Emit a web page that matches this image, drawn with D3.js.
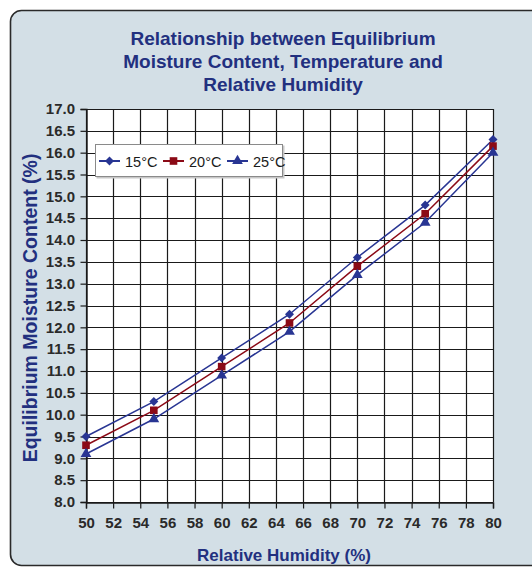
<!DOCTYPE html>
<html>
<head>
<meta charset="utf-8">
<script src="https://cdn.jsdelivr.net/npm/d3@7"></script>
<style>
  html, body { margin: 0; padding: 0; background: #ffffff; }
  svg { display: block; }
</style>
</head>
<body>
<svg id="chart" width="532" height="567"></svg>
<script>
// Relative humidity (%) at which each reading was taken
const humidity = [50, 55, 60, 65, 70, 75, 80];

// Equilibrium moisture content (%) per temperature
const emc15 = [9.5, 10.3, 11.3, 12.3, 13.6, 14.8, 16.3];
const emc20 = [9.3, 10.1, 11.1, 12.1, 13.4, 14.6, 16.15];
const emc25 = [9.1, 9.9, 10.9, 11.9, 13.2, 14.4, 16.0];

const seriesNames = ["15°C", "20°C", "25°C"];

// Axis ticks
const xTicks = [50, 52, 54, 56, 58, 60, 62, 64, 66, 68, 70, 72, 74, 76, 78, 80];
const yTicks = [8.0, 8.5, 9.0, 9.5, 10.0, 10.5, 11.0, 11.5, 12.0, 12.5, 13.0, 13.5,
                14.0, 14.5, 15.0, 15.5, 16.0, 16.5, 17.0];

const titleLines = ["Relationship between Equilibrium",
                    "Moisture Content, Temperature and",
                    "Relative Humidity"];

// Marker shapes: the diamond is a square turned 45 degrees
const series = [
  { name: seriesNames[0], values: emc15, color: "#283593", symbol: d3.symbolSquare, size: 40, rotate: 45 },
  { name: seriesNames[1], values: emc20, color: "#8b0a16", symbol: d3.symbolSquare, size: 58, rotate: 0 },
  { name: seriesNames[2], values: emc25, color: "#283593", symbol: d3.symbolTriangle, size: 50, rotate: 0 }
];

const svg = d3.select("#chart");
const navy = "#22307f";
const font = "'Liberation Sans', Arial, sans-serif";

// Framed panel behind everything
svg.append("rect")
  .attr("x", 10.5).attr("y", 10.5)
  .attr("width", 560).attr("height", 555)
  .attr("rx", 11).attr("ry", 11)
  .attr("fill", "#d3dfe6")
  .attr("stroke", "#2a2a2a")
  .attr("stroke-width", 1.6);

// Title
svg.append("text")
  .attr("x", 283).attr("y", 45)
  .attr("text-anchor", "middle")
  .attr("font-family", font)
  .attr("font-size", 19)
  .attr("font-weight", "bold")
  .attr("fill", navy)
  .selectAll("tspan")
  .data(titleLines)
  .join("tspan")
  .attr("x", 283)
  .attr("dy", (d, i) => i === 0 ? 0 : 23)
  .text(d => d);

const margin = { left: 86, right: 493, top: 109, bottom: 502 };

const x = d3.scaleLinear().domain([50, 80]).range([margin.left, margin.right]);
const y = d3.scaleLinear().domain([8, 17]).range([margin.bottom, margin.top]);

// Plot area
svg.append("rect")
  .attr("x", margin.left).attr("y", margin.top)
  .attr("width", margin.right - margin.left)
  .attr("height", margin.bottom - margin.top)
  .attr("fill", "#ffffff");

// Grid
const grid = svg.append("g").attr("stroke", "#1a1a1a").attr("stroke-width", 1.2);
grid.selectAll("line.h")
  .data(yTicks)
  .join("line")
  .attr("class", "h")
  .attr("x1", margin.left).attr("x2", margin.right)
  .attr("y1", d => Math.round(y(d)) + 0.5).attr("y2", d => Math.round(y(d)) + 0.5);
grid.selectAll("line.v")
  .data(xTicks)
  .join("line")
  .attr("class", "v")
  .attr("y1", margin.top).attr("y2", margin.bottom)
  .attr("x1", d => Math.round(x(d)) + 0.5).attr("x2", d => Math.round(x(d)) + 0.5);

// Axes
const xAxis = svg.append("g")
  .attr("transform", `translate(0,${Math.round(y(8)) + 0.5})`)
  .call(d3.axisBottom(x).tickValues(xTicks).tickSize(6).tickPadding(9).tickFormat(d3.format("d")));
const yAxis = svg.append("g")
  .attr("transform", `translate(${Math.round(x(50)) + 0.5},0)`)
  .call(d3.axisLeft(y).tickValues(yTicks).tickSize(6).tickPadding(5.5).tickFormat(d3.format(".1f")));

[xAxis, yAxis].forEach(g => {
  g.attr("font-family", font).attr("font-size", 15);
  g.select(".domain").attr("stroke", "#1a1a1a").attr("stroke-width", 1.4);
  g.selectAll(".tick line").attr("stroke", "#1a1a1a").attr("stroke-width", 1.2);
  g.selectAll(".tick text")
    .attr("font-family", font)
    .attr("font-size", 15)
    .attr("font-weight", "bold")
    .attr("fill", "#2a2a2a");
});

// Axis titles
svg.append("text")
  .attr("x", 284).attr("y", 561)
  .attr("text-anchor", "middle")
  .attr("font-family", font).attr("font-size", 17).attr("font-weight", "bold")
  .attr("fill", navy)
  .text("Relative Humidity (%)");
svg.append("text")
  .attr("transform", `translate(37,308) rotate(-90)`)
  .attr("text-anchor", "middle")
  .attr("font-family", font).attr("font-size", 19.5).attr("font-weight", "bold")
  .attr("fill", navy)
  .text("Equilibrium Moisture Content (%)");

// Series lines and markers
const line = d3.line()
  .x((d, i) => x(humidity[i]))
  .y(d => y(d));

series.forEach(s => {
  svg.append("path")
    .datum(s.values)
    .attr("d", line)
    .attr("fill", "none")
    .attr("stroke", s.color)
    .attr("stroke-width", 1.5);
  svg.append("g")
    .selectAll("path")
    .data(s.values)
    .join("path")
    .attr("transform", (d, i) => `translate(${x(humidity[i])},${y(d)}) rotate(${s.rotate})`)
    .attr("d", d3.symbol().type(s.symbol).size(s.size))
    .attr("fill", s.color);
});

// Legend
const legend = svg.append("g").attr("transform", "translate(95,144)");
legend.append("rect")
  .attr("x", 1.5).attr("y", 1.5)
  .attr("width", 188).attr("height", 33)
  .attr("fill", "#c8c8c8");
legend.append("rect")
  .attr("x", 0.5).attr("y", 0.5)
  .attr("width", 187).attr("height", 32)
  .attr("fill", "#ffffff")
  .attr("stroke", "#8a8a8a")
  .attr("stroke-width", 1);

const itemX = [4, 68, 132];
series.forEach((s, i) => {
  const g = legend.append("g").attr("transform", `translate(${itemX[i]},17)`);
  g.append("line")
    .attr("x1", 0).attr("x2", 21)
    .attr("stroke", s.color).attr("stroke-width", 2);
  g.append("path")
    .attr("transform", `translate(10.5,0) rotate(${s.rotate})`)
    .attr("d", d3.symbol().type(s.symbol).size(s.size))
    .attr("fill", s.color);
  g.append("text")
    .attr("x", 26).attr("y", 5.5)
    .attr("font-family", font).attr("font-size", 14.5)
    .attr("fill", "#1a1a1a")
    .text(s.name);
});
</script>
</body>
</html>
